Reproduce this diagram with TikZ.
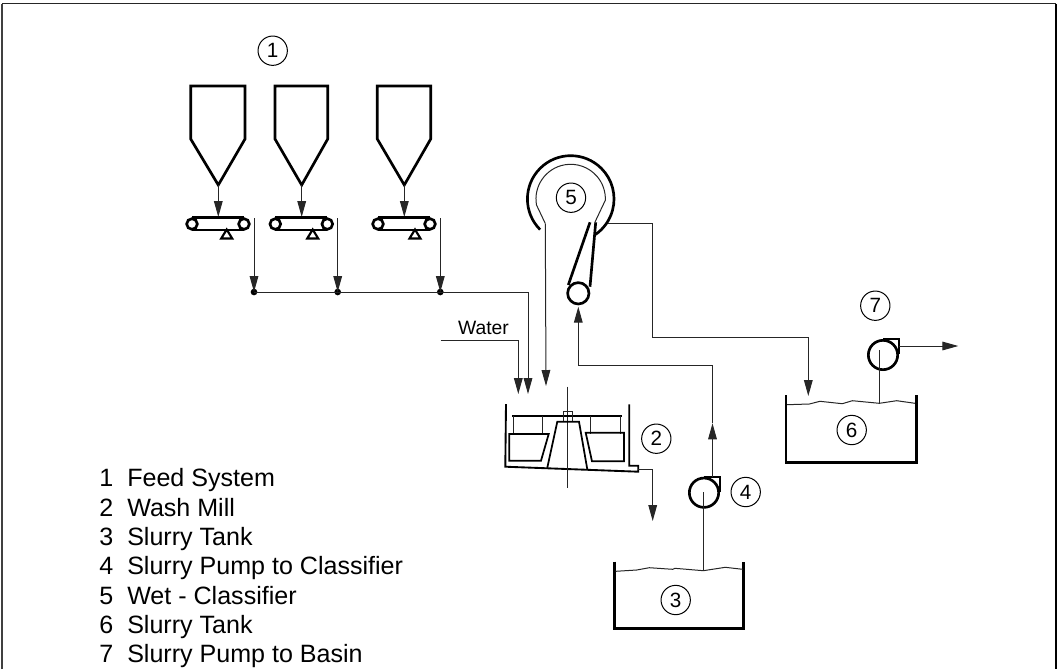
\documentclass[tikz,border=0pt]{standalone}
\usepackage{fontspec}
\setmainfont{Liberation Sans}
\usetikzlibrary{arrows.meta}
\tikzset{
  x=0.75pt,y=-0.75pt,
  thin line/.style={line width=0.75pt,draw=black!85},
  thick line/.style={line width=2pt,draw=black,line join=miter},
  mid line/.style={line width=1.3pt,draw=black},
  flow/.style={thin line,-{Triangle[length=12pt,width=6.5pt]}},
  tag/.style={circle,draw=black,line width=0.75pt,minimum size=22pt,inner sep=0pt,font=\fontsize{15.5}{15.5}\selectfont},
  legend/.style={anchor=base west,inner sep=0pt,font=\fontsize{18.8}{20}\selectfont},
  dotnode/.style={circle,fill=black,inner sep=0pt,minimum size=5pt},
  roller/.style={circle,draw=black,line width=2pt,fill=white,inner sep=0pt,minimum size=8pt},
  pumpbody/.style={circle,draw=black,line width=2pt,minimum size=22pt,inner sep=0pt},
}
\newcommand{\dg}[1]{\raisebox{-1pt}{#1}}
\begin{document}
\begin{tikzpicture}
\useasboundingbox (0,0) rectangle (1057,669);
\draw[line width=1pt,draw=black!75] (2,669) -- (2,3.5);
\draw[line width=1.2pt,draw=black!85] (2,3.5) -- (1056,3.5);
\draw[line width=1.5pt,draw=black] (1055.5,3.5) -- (1055.5,669);

% tags
\node[tag] (t1) at (272.7,50.7) {\dg{1}};
\node[tag] (t2) at (656.3,438.7) {\dg{2}};
\node[tag] (t3) at (675.7,600) {\dg{3}};
\node[tag] (t4) at (745.7,492) {\dg{4}};
\node[tag] (t5) at (571,197.7) {\dg{5}};
\node[tag] (t6) at (851.7,430) {\dg{6}};
\node[tag] (t7) at (875.3,305.7) {\dg{7}};

% hoppers
\foreach \l/\r/\a/\n in {190.7/245/218.3/a,275/327.7/301.7/b,377.3/430.7/404.3/c}{
  \draw[thick line] (\l,86) -- (\r,86) -- (\r,139) -- (\a,185) -- (\l,139) -- cycle;
  \coordinate (apex\n) at (\a,185);
  \coordinate (belt\n) at (\a,217);
  \draw[flow] (apex\n) -- (belt\n);
}
% conveyors
\foreach \l/\r/\m/\n in {192/244/226.7/a,275.3/327.3/312.7/b,378/430/415/c}{
  \draw[thick line] (\l,217.7) -- (\r,217.7);
  \draw[thick line] (\l,230) -- (\r,230);
  \node[roller] at (\l,224) {};
  \node[roller] at (\r,224) {};
  \draw[line width=1.6pt] (\m,229.5) -- (\m-5.5,238.5) -- (\m+5.5,238.5) -- cycle;
}
% drop lines and collector
\node[dotnode] (j1) at (254,292) {};
\node[dotnode] (j2) at (337.7,292) {};
\node[dotnode] (j3) at (440.3,292) {};
\coordinate (d1) at (254,218);
\coordinate (d2) at (337.7,218);
\coordinate (d3) at (440.3,218);
\draw[flow] (d1) -- (j1.center);
\draw[flow] (d2) -- (j2.center);
\draw[flow] (d3) -- (j3.center);
\coordinate (c1) at (528,292);
\coordinate (m1) at (528,394);
\draw[flow] (j1.center) -- (c1) -- (m1);

% water
\coordinate (w0) at (440.7,340);
\coordinate (w1) at (518.3,340);
\coordinate (w2) at (518.3,394);
\draw[flow] (w0) -- (w1) -- (w2);
\node[inner sep=0pt,font=\fontsize{14.5}{14.5}\selectfont] (water) at (483.5,327.5) {Water};

% classifier
\draw[line width=2pt] (540.1,229.6) arc[start angle=135,end angle=415,radius=43.3];
\draw[thin line] (545.3,223.5) -- (536.5,205) arc[start angle=170,end angle=362,radius=34.7] -- (595,222);
\draw[thick line] (590,222.3) -- (568.3,285);
\draw[thick line] (595.7,222.3) -- (590,286.7);
\node[circle,draw=black,line width=2pt,fill=white,minimum size=16pt,inner sep=0pt] (headwheel) at (578.3,293.3) {};
\coordinate (o1) at (545.3,223.5);
\coordinate (o2) at (546,386);
\draw[flow] (o1) -- (o2);
\coordinate (f1) at (607.7,223.3);
\coordinate (f2) at (652.8,223.3);
\coordinate (f3) at (652.8,337.8);
\coordinate (f4) at (808.3,337.8);
\coordinate (f5) at (808.3,396);
\draw[flow] (f1) -- (f2) -- (f3) -- (f4) -- (f5);

% wash mill
\draw[line width=1.4pt] (506,404) -- (505.3,466.7) -- (638.3,471.7) -- (638.3,465.7) -- (629.3,465.7) -- (629.3,404.3);
\draw[thin line] (567.7,386.7) -- (567.7,487.7);
\draw[mid line] (512,415.7) -- (622,415.7);
\draw[thin line] (563.7,421.7) -- (563.7,411.7) -- (572.3,411.7) -- (572.3,421.7);
\draw[mid line] (547.3,467.7) -- (557.3,421.7) -- (579,421.7) -- (587.3,469.3);
\foreach \x in {513.3,542,590.7,620.3} \draw[thin line] (\x,415.7) -- (\x,433.5);
\draw[mid line] (509.3,434) -- (548.7,434) -- (541,460.7) -- (509.3,460.7) -- cycle;
\draw[mid line] (585.7,432.7) -- (624,432.7) -- (624,461.3) -- (592,461.3) -- cycle;
\coordinate (mo1) at (638.3,469.3);
\coordinate (mo2) at (652.7,469.3);
\coordinate (mo3) at (652.7,521);
\draw[flow] (mo1) -- (mo2) -- (mo3);

% tank 3
\draw[thick line] (614.3,561.7) -- (614.3,628.7) -- (743.7,628.7) -- (743.7,561.7);
\draw[thin line] (615.5,571.3) -- (636.7,570) -- (649.3,567.7) -- (672.7,569.3) -- (675,568.3) -- (703.3,570.7) -- (725.3,567.3) -- (742.7,569.3);
% pump 4
\node[pumpbody] (p4) at (704,492.7) {};
\draw[line width=2pt] (704,477) -- (720,477) -- (720,492);
\coordinate (s3) at (703.7,570.7);
\coordinate (s3t) at (703.7,492.3);
\draw[thin line] (s3) -- (s3t);
\coordinate (u1) at (712.5,476.7);
\coordinate (u2) at (712.5,423.3);
\coordinate (u3) at (712.5,365.5);
\coordinate (u4) at (578.3,365.5);
\coordinate (u5) at (578.3,306.7);
\draw[flow] (u1) -- (u2);
\draw[flow] (u2) -- (u3) -- (u4) -- (u5);

% tank 6
\draw[thick line] (786,395) -- (786,462.3) -- (916.3,462.3) -- (916.3,395);
\draw[thin line] (787,404.7) -- (809.3,404) -- (820,401.3) -- (842.3,403.7) -- (852.3,400.7) -- (879.3,403.3) -- (896.7,400.7) -- (915,403.3);
% pump 7
\node[pumpbody] (p7) at (883,355) {};
\draw[line width=2pt] (883,339) -- (899,339) -- (899,354);
\coordinate (s6) at (879.7,403.3);
\coordinate (s6t) at (879.7,350);
\draw[thin line] (s6) -- (s6t);
\coordinate (e1) at (899,346);
\coordinate (e2) at (958.3,346);
\draw[flow] (e1) -- (e2);

% legend
\foreach \y/\k/\s in {486/1/Feed System,516/2/Wash Mill,545/3/Slurry Tank,574/4/Slurry Pump to Classifier,604/5/Wet - Classifier,633/6/Slurry Tank,662/7/Slurry Pump to Basin}{
  \node[legend] at (99,\y) {\k};
  \node[legend] at (127,\y) {\s};
}
\end{tikzpicture}
\end{document}
